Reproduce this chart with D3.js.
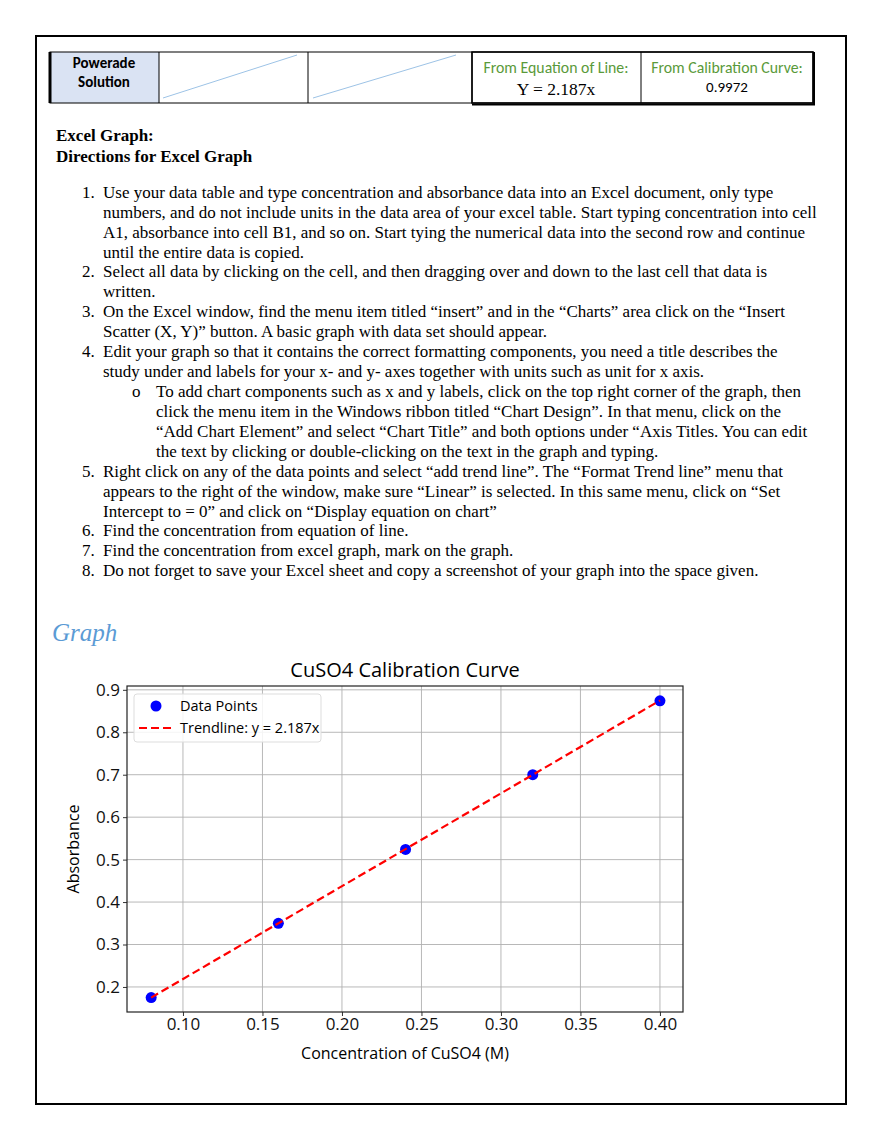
<!DOCTYPE html>
<html><head><meta charset="utf-8">
<script src="https://cdn.jsdelivr.net/npm/d3@7"></script>
<style>body{margin:0;background:#fff}</style>
</head><body><div id="vis"></div>
<script>
// chart data
var conc = [0.08, 0.16, 0.24, 0.32, 0.40];
var absorb = [0.175, 0.350, 0.524, 0.700, 0.874];
var slope = 2.187;
var xTicks = [0.10, 0.15, 0.20, 0.25, 0.30, 0.35, 0.40];
var yTicks = [0.2, 0.3, 0.4, 0.5, 0.6, 0.7, 0.8, 0.9];

var directions = [
  ["1.", 0, "Use your data table and type concentration and absorbance data into an Excel document, only type"],
  ["", 0, "numbers, and do not include units in the data area of your excel table. Start typing concentration into cell"],
  ["", 0, "A1, absorbance into cell B1, and so on. Start tying the numerical data into the second row and continue"],
  ["", 0, "until the entire data is copied."],
  ["2.", 0, "Select all data by clicking on the cell, and then dragging over and down to the last cell that data is"],
  ["", 0, "written."],
  ["3.", 0, "On the Excel window, find the menu item titled \u201cinsert\u201d and in the \u201cCharts\u201d area click on the \u201cInsert"],
  ["", 0, "Scatter (X, Y)\u201d button. A basic graph with data set should appear."],
  ["4.", 0, "Edit your graph so that it contains the correct formatting components, you need a title describes the"],
  ["", 0, "study under and labels for your x- and y- axes together with units such as unit for x axis."],
  ["o", 1, "To add chart components such as x and y labels, click on the top right corner of the graph, then"],
  ["", 1, "click the menu item in the Windows ribbon titled \u201cChart Design\u201d. In that menu, click on the"],
  ["", 1, "\u201cAdd Chart Element\u201d and select \u201cChart Title\u201d and both options under \u201cAxis Titles. You can edit"],
  ["", 1, "the text by clicking or double-clicking on the text in the graph and typing."],
  ["5.", 0, "Right click on any of the data points and select \u201cadd trend line\u201d. The \u201cFormat Trend line\u201d menu that"],
  ["", 0, "appears to the right of the window, make sure \u201cLinear\u201d is selected. In this same menu, click on \u201cSet"],
  ["", 0, "Intercept to = 0\u201d and click on \u201cDisplay equation on chart\u201d"],
  ["6.", 0, "Find the concentration from equation of line."],
  ["7.", 0, "Find the concentration from excel graph, mark on the graph."],
  ["8.", 0, "Do not forget to save your Excel sheet and copy a screenshot of your graph into the space given."]
];
var lineY = [193,213,233,253,272,292,312,332,352,372,392,412,432,452,472,492,512,531,551,571];

var svg = d3.select("#vis").append("svg").attr("width", 880).attr("height", 1139);
var serif = "'Liberation Serif', 'Times New Roman', serif";
var calibri = "Carlito, 'Open Sans', sans-serif";
var sans = "'Open Sans', Roboto, sans-serif";
var fs = 17;

// page border
svg.append("rect").attr("x", 36).attr("y", 36).attr("width", 810).attr("height", 1068)
  .attr("fill", "none").attr("stroke", "#000").attr("stroke-width", 2);

// top table
var cols = [50, 159, 308, 472, 641, 813];
var tTop = 52, tBot = 103;
svg.append("rect").attr("x", 50).attr("y", tTop).attr("width", 109).attr("height", tBot - tTop).attr("fill", "#dae3f3");
svg.append("rect").attr("x", 50).attr("y", tTop).attr("width", 763).attr("height", tBot - tTop)
  .attr("fill", "none").attr("stroke", "#000").attr("stroke-width", 1);
svg.append("rect").attr("x", 472).attr("y", tTop).attr("width", 341).attr("height", tBot - tTop)
  .attr("fill", "none").attr("stroke", "#000").attr("stroke-width", 1.5);
svg.append("line").attr("x1", 50).attr("x2", 50).attr("y1", tTop).attr("y2", tBot).attr("stroke", "#000").attr("stroke-width", 3);
svg.append("line").attr("x1", 472).attr("x2", 815).attr("y1", tBot + 1.5).attr("y2", tBot + 1.5).attr("stroke", "#000").attr("stroke-width", 2);
svg.append("line").attr("x1", 814).attr("x2", 814).attr("y1", tTop).attr("y2", tBot + 2).attr("stroke", "#000").attr("stroke-width", 2);
cols.slice(1, 5).forEach(function (c) {
  svg.append("line").attr("x1", c).attr("x2", c).attr("y1", tTop).attr("y2", tBot).attr("stroke", "#000");
});
[[163, 297], [313, 456]].forEach(function (p) {
  svg.append("line").attr("x1", p[0]).attr("y1", 98).attr("x2", p[1]).attr("y2", 55)
    .attr("stroke", "#9dc3e6").attr("stroke-width", 1);
});
svg.append("text").attr("x", 104).attr("y", 68).attr("text-anchor", "middle").attr("font-family", calibri)
  .attr("font-size", 15).attr("font-weight", "bold").text("Powerade");
svg.append("text").attr("x", 104).attr("y", 87).attr("text-anchor", "middle").attr("font-family", calibri)
  .attr("font-size", 15).attr("font-weight", "bold").text("Solution");
svg.append("text").attr("x", 556).attr("y", 73).attr("text-anchor", "middle").attr("font-family", calibri)
  .attr("font-size", 15.8).attr("fill", "#5a9a3a").text("From Equation of Line:");
svg.append("text").attr("x", 556).attr("y", 95).attr("text-anchor", "middle").attr("font-family", serif)
  .attr("font-size", 17.5).text("Y = 2.187x");
svg.append("text").attr("x", 727).attr("y", 73).attr("text-anchor", "middle").attr("font-family", calibri)
  .attr("font-size", 15.8).attr("fill", "#5a9a3a").text("From Calibration Curve:");
svg.append("text").attr("x", 727).attr("y", 92).attr("text-anchor", "middle").attr("font-family", calibri)
  .attr("font-size", 15).text("0.9972");

// directions
svg.append("text").attr("x", 56).attr("y", 141).attr("font-family", serif).attr("font-size", fs)
  .attr("font-weight", "bold").text("Excel Graph:");
svg.append("text").attr("x", 56).attr("y", 162).attr("font-family", serif).attr("font-size", fs)
  .attr("font-weight", "bold").text("Directions for Excel Graph");
directions.forEach(function (d, i) {
  var base = d[1] ? 156 : 103;
  if (d[0]) svg.append("text").attr("x", d[1] ? 132 : 82).attr("y", lineY[i] + 5).attr("font-family", serif)
    .attr("font-size", fs).text(d[0]);
  svg.append("text").attr("x", base).attr("y", lineY[i] + 5).attr("font-family", serif)
    .attr("font-size", fs).text(d[2]);
});
svg.append("text").attr("x", 52).attr("y", 641).attr("font-family", serif).attr("font-size", 25)
  .attr("font-style", "italic").attr("fill", "#5b9bd5").text("Graph");

// chart
var pl = 127, pr = 683, pt = 686, pb = 1012;
var x = d3.scaleLinear().domain([0.0648, 0.4145]).range([pl, pr]);
var y = d3.scaleLinear().domain([0.141, 0.909]).range([pb, pt]);
var g = svg.append("g");
g.selectAll(".gx").data(xTicks).enter().append("line")
  .attr("x1", function (d) { return x(d); }).attr("x2", function (d) { return x(d); })
  .attr("y1", pt).attr("y2", pb).attr("stroke", "#b0b0b0").attr("stroke-width", 0.9);
g.selectAll(".gy").data(yTicks).enter().append("line")
  .attr("y1", function (d) { return y(d); }).attr("y2", function (d) { return y(d); })
  .attr("x1", pl).attr("x2", pr).attr("stroke", "#b0b0b0").attr("stroke-width", 0.9);

var xAxis = g.append("g").attr("transform", "translate(0," + pb + ")")
  .call(d3.axisBottom(x).tickValues(xTicks).tickFormat(d3.format(".2f")).tickSize(4).tickPadding(2));
var yAxis = g.append("g").attr("transform", "translate(" + pl + ",0)")
  .call(d3.axisLeft(y).tickValues(yTicks).tickFormat(d3.format(".1f")).tickSize(4).tickPadding(3));
[xAxis, yAxis].forEach(function (a) {
  a.select(".domain").remove();
  a.selectAll("text").attr("font-family", sans).attr("font-size", 17).attr("fill", "#111");
  a.selectAll("line").attr("stroke", "#333");
});
g.append("rect").attr("x", pl).attr("y", pt).attr("width", pr - pl).attr("height", pb - pt)
  .attr("fill", "none").attr("stroke", "#222").attr("stroke-width", 1.2);

g.selectAll(".pt").data(conc).enter().append("circle")
  .attr("cx", function (d) { return x(d); }).attr("cy", function (d, i) { return y(absorb[i]); })
  .attr("r", 5.5).attr("fill", "#0000ff");
g.append("line").attr("x1", x(conc[0])).attr("y1", y(slope * conc[0]))
  .attr("x2", x(conc[4])).attr("y2", y(slope * conc[4]))
  .attr("stroke", "red").attr("stroke-width", 2.2).attr("stroke-dasharray", "8,4");

// legend
var lg = g.append("g").attr("transform", "translate(134,694)");
lg.append("rect").attr("width", 187).attr("height", 48).attr("rx", 3).attr("fill", "#fff")
  .attr("fill-opacity", 0.85).attr("stroke", "#ddd");
lg.append("circle").attr("cx", 22).attr("cy", 12).attr("r", 5.5).attr("fill", "#0000ff");
lg.append("text").attr("x", 46).attr("y", 17).attr("font-family", sans).attr("font-size", 14.5).text("Data Points");
lg.append("line").attr("x1", 5).attr("x2", 37).attr("y1", 34).attr("y2", 34)
  .attr("stroke", "red").attr("stroke-width", 2.2).attr("stroke-dasharray", "8,4");
lg.append("text").attr("x", 46).attr("y", 39).attr("font-family", sans).attr("font-size", 14.5).text("Trendline: y = 2.187x");

g.append("text").attr("x", (pl + pr) / 2).attr("y", 677).attr("text-anchor", "middle")
  .attr("font-family", sans).attr("font-size", 20).text("CuSO4 Calibration Curve");
g.append("text").attr("x", (pl + pr) / 2).attr("y", 1059).attr("text-anchor", "middle")
  .attr("font-family", sans).attr("font-size", 16).text("Concentration of CuSO4 (M)");
g.append("text").attr("transform", "translate(79," + ((pt + pb) / 2) + ") rotate(-90)").attr("text-anchor", "middle")
  .attr("font-family", sans).attr("font-size", 16).text("Absorbance");
</script></body></html>
